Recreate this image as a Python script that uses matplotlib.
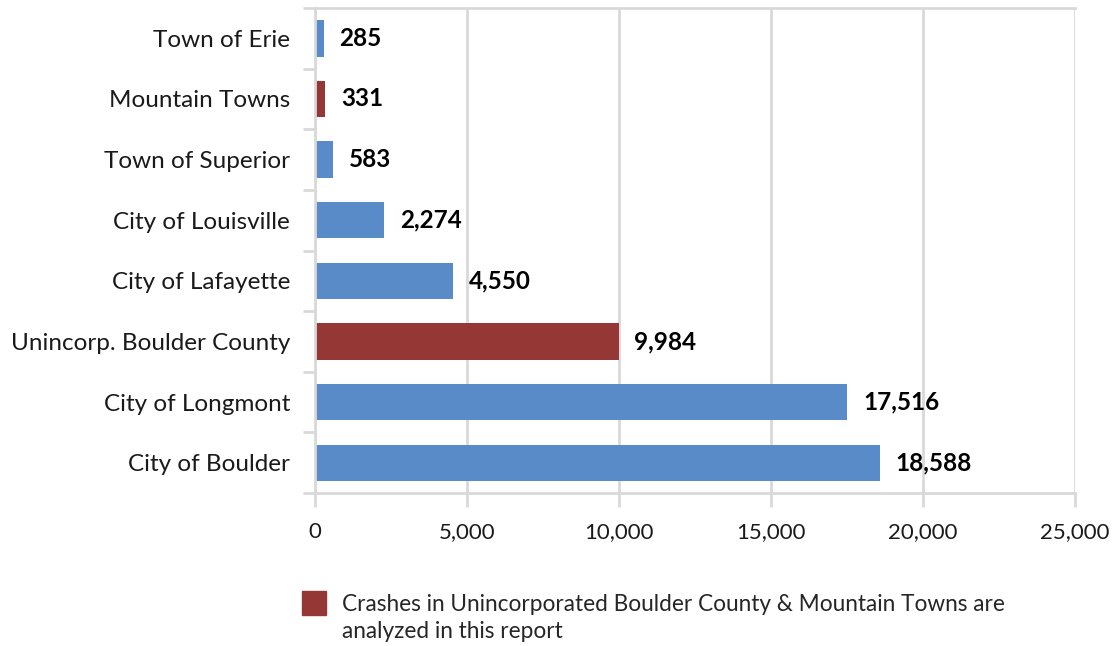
import matplotlib
matplotlib.use("Agg")
import matplotlib.pyplot as plt
from matplotlib.patches import Rectangle
from matplotlib.ticker import FuncFormatter, FixedLocator
import numpy as np

categories = ["City of Boulder", "City of Longmont", "Unincorp. Boulder County",
              "City of Lafayette", "City of Louisville", "Town of Superior",
              "Mountain Towns", "Town of Erie"]
values = [18588, 17516, 9984, 4550, 2274, 583, 331, 285]
highlight = [False, False, True, False, False, False, True, False]
x_ticks = [0, 5000, 10000, 15000, 20000, 25000]
legend_text = "Crashes in Unincorporated Boulder County & Mountain Towns are\nanalyzed in this report"

BLUE = "#588BC8"
RED = "#953735"
GRID = "#D9D9D9"

plt.rcParams['font.family'] = ['Lato', 'DejaVu Sans']

fig = plt.figure(figsize=(11.19, 6.46), dpi=100)
ax = fig.add_axes([315/1119, 1-493/646, (1075-315)/1119, (493-8)/646])

y = np.arange(len(categories))
colors = [RED if h else BLUE for h in highlight]
ax.barh(y, values, height=0.6, color=colors, zorder=3)

for yi, v in zip(y, values):
    ax.text(v + 520, yi, f"{v:,}", va="center", ha="left", fontsize=17.5,
            fontweight="bold", color="black", zorder=4)

ax.set_xlim(0, 25000)
ax.set_ylim(-0.5, len(categories) - 0.5)
ax.set_xticks(x_ticks)
ax.xaxis.set_major_formatter(FuncFormatter(lambda v, p: f"{int(v):,}"))
ax.set_yticks(y)
ax.set_yticklabels(categories)
ax.yaxis.set_minor_locator(FixedLocator(np.arange(-0.5, len(categories), 1.0)))

ax.tick_params(axis="y", which="major", length=0, pad=18, labelsize=17.5,
               labelcolor="#1a1a1a")
ax.tick_params(axis="y", which="minor", length=9, width=2, color=GRID)
ax.tick_params(axis="x", which="major", length=10, width=2, color=GRID,
               pad=11, labelsize=16, labelcolor="#1a1a1a")

ax.grid(axis="x", color=GRID, linewidth=2, zorder=0)
for side in ["left", "bottom", "top"]:
    ax.spines[side].set_color(GRID)
    ax.spines[side].set_linewidth(2)
ax.spines["right"].set_visible(False)
ax.spines["left"].set_zorder(5)

# legend
fig.patches.append(Rectangle((302/1119, 1-615/646), 24/1119, 24/646,
                             transform=fig.transFigure, color=RED))
fig.text(342/1119, 1-618/646, legend_text, fontsize=16.3, color="#262626",
         va="center", ha="left", linespacing=1.38)

fig.savefig("out.png", dpi=100)
